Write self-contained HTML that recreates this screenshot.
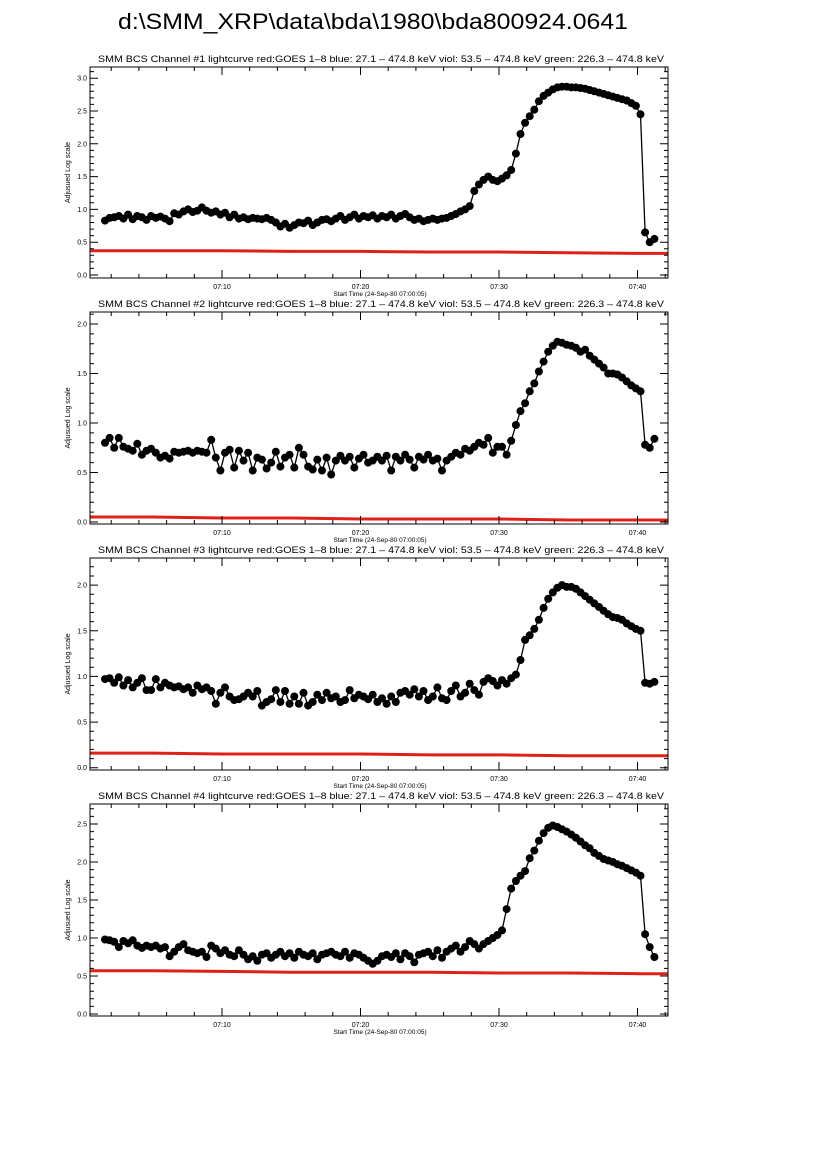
<!DOCTYPE html>
<html><head><meta charset="utf-8"><style>
html,body{margin:0;padding:0;background:#fff;}
svg{display:block;font-family:"Liberation Sans",sans-serif;}
</style></head><body>
<svg id="chart" width="826" height="1169" viewBox="0 0 826 1169" xmlns="http://www.w3.org/2000/svg">
<rect width="826" height="1169" fill="#fff"/>
<text x="118" y="29" font-size="22" textLength="510" lengthAdjust="spacingAndGlyphs">d:\SMM_XRP\data\bda\1980\bda800924.0641</text>
</svg>
<script>
// time axis: minutes after 07:00, samples every 20 s
const T0 = 1.55;
const DT = 1/3;
const xTickLabels = ["07:10","07:20","07:30","07:40"];
const xTickValues = [10,20,30,40];
const redTimes = [0,5,10,15,20,25,30,35,40,42.3];

const ch1 = [0.83,0.87,0.88,0.90,0.86,0.92,0.85,0.90,0.88,0.84,0.90,0.87,
0.89,0.86,0.82,0.94,0.92,0.97,1.00,0.96,0.98,1.03,0.98,0.95,
0.97,0.92,0.95,0.88,0.92,0.86,0.88,0.85,0.87,0.86,0.85,0.87,
0.84,0.80,0.74,0.78,0.72,0.76,0.80,0.79,0.83,0.76,0.80,0.84,
0.85,0.82,0.86,0.90,0.84,0.88,0.92,0.86,0.90,0.88,0.91,0.86,
0.90,0.88,0.92,0.86,0.90,0.93,0.88,0.84,0.86,0.82,0.84,0.86,
0.84,0.86,0.87,0.90,0.93,0.97,1.00,1.05,1.28,1.38,1.45,1.50,
1.45,1.43,1.47,1.52,1.60,1.85,2.15,2.32,2.42,2.52,2.65,2.73,
2.78,2.83,2.86,2.87,2.87,2.86,2.86,2.85,2.84,2.82,2.80,2.78,
2.76,2.74,2.72,2.70,2.68,2.66,2.62,2.58,2.45,0.65,0.50,0.55];
const ch2 = [0.80,0.85,0.75,0.85,0.76,0.74,0.72,0.79,0.68,0.72,0.74,0.70,
0.65,0.67,0.64,0.71,0.70,0.71,0.72,0.70,0.72,0.71,0.70,0.83,
0.65,0.52,0.70,0.73,0.55,0.72,0.62,0.70,0.52,0.65,0.63,0.54,
0.60,0.71,0.56,0.65,0.68,0.55,0.75,0.68,0.56,0.53,0.63,0.52,
0.65,0.48,0.62,0.67,0.62,0.66,0.55,0.64,0.68,0.60,0.62,0.66,
0.62,0.67,0.52,0.66,0.62,0.68,0.63,0.55,0.66,0.63,0.68,0.62,
0.64,0.52,0.62,0.66,0.70,0.68,0.74,0.72,0.76,0.80,0.78,0.85,
0.70,0.76,0.76,0.68,0.82,0.98,1.12,1.20,1.32,1.40,1.52,1.62,
1.72,1.78,1.82,1.81,1.79,1.78,1.76,1.72,1.74,1.68,1.64,1.60,
1.56,1.50,1.50,1.49,1.46,1.42,1.38,1.35,1.32,0.78,0.75,0.84];
const ch3 = [0.97,0.98,0.93,0.99,0.90,0.96,0.88,0.93,0.98,0.85,0.85,0.97,
0.88,0.93,0.90,0.88,0.89,0.86,0.88,0.82,0.90,0.86,0.88,0.84,
0.70,0.82,0.88,0.78,0.74,0.75,0.78,0.82,0.78,0.84,0.68,0.72,
0.75,0.85,0.72,0.84,0.70,0.78,0.70,0.82,0.68,0.72,0.80,0.74,
0.82,0.76,0.78,0.72,0.74,0.85,0.76,0.80,0.78,0.75,0.80,0.72,
0.76,0.70,0.78,0.72,0.82,0.84,0.80,0.86,0.78,0.84,0.74,0.78,
0.88,0.76,0.74,0.84,0.90,0.78,0.82,0.92,0.85,0.80,0.94,0.98,
0.95,0.90,0.96,0.92,0.98,1.02,1.18,1.40,1.45,1.52,1.62,1.75,
1.85,1.92,1.97,2.00,1.98,1.98,1.96,1.92,1.88,1.84,1.80,1.76,
1.72,1.68,1.65,1.64,1.62,1.58,1.55,1.52,1.50,0.93,0.92,0.94];
const ch4 = [0.98,0.97,0.95,0.88,0.96,0.93,0.97,0.90,0.87,0.90,0.88,0.90,
0.86,0.88,0.76,0.82,0.88,0.92,0.84,0.82,0.80,0.82,0.75,0.90,
0.86,0.80,0.84,0.78,0.76,0.84,0.78,0.72,0.76,0.70,0.78,0.80,
0.74,0.78,0.82,0.76,0.80,0.74,0.82,0.78,0.76,0.80,0.72,0.78,
0.80,0.82,0.78,0.76,0.82,0.74,0.80,0.78,0.74,0.70,0.66,0.70,
0.76,0.78,0.75,0.80,0.72,0.80,0.76,0.68,0.78,0.80,0.82,0.76,
0.84,0.74,0.82,0.86,0.90,0.82,0.88,0.96,0.92,0.86,0.92,0.96,
1.00,1.04,1.10,1.38,1.65,1.75,1.82,1.88,2.05,2.15,2.28,2.38,
2.45,2.48,2.46,2.43,2.40,2.36,2.32,2.27,2.22,2.18,2.12,2.08,
2.04,2.02,2.00,1.97,1.95,1.92,1.89,1.86,1.82,1.05,0.88,0.75];
const red1 = [0.37,0.37,0.37,0.36,0.36,0.35,0.35,0.34,0.33,0.33];
const red2 = [0.05,0.05,0.04,0.04,0.03,0.03,0.03,0.02,0.02,0.02];
const red3 = [0.16,0.16,0.15,0.15,0.15,0.14,0.14,0.13,0.13,0.13];
const red4 = [0.57,0.57,0.56,0.55,0.55,0.55,0.54,0.54,0.53,0.53];
const yMaxes = [3.0,2.0,2.0,2.5];

const NS = "http://www.w3.org/2000/svg";
const svg = document.getElementById('chart');
function mk(tag, attrs, parent){const e=document.createElementNS(NS,tag);for(const k in attrs)e.setAttribute(k,attrs[k]);(parent||svg).appendChild(e);return e;}

const panels = [
 {top:67,bot:278,y0:275,ppu:65.6,data:ch1,red:red1,n:1},
 {top:312,bot:524,y0:522,ppu:99,data:ch2,red:red2,n:2},
 {top:558,bot:770,y0:767.7,ppu:91.3,data:ch3,red:red3,n:3},
 {top:804,bot:1016,y0:1014,ppu:76,data:ch4,red:red4,n:4}
];
const L=90, R=668;
function xs(t){return 360.5 + (t-20)*13.85;}

panels.forEach((p,pi)=>{
 const g = mk('g',{});
 
 
 const ys = v => p.y0 - v*p.ppu;
 const title = mk('text',{x:98,y:p.top-5,'font-size':9.3,textLength:566,lengthAdjust:'spacingAndGlyphs'},g);
 
 
 title.textContent='SMM BCS Channel #'+p.n+' lightcurve  red:GOES 1\u20138  blue: 27.1 \u2013 474.8 keV  viol: 53.5 \u2013 474.8 keV  green: 226.3 \u2013 474.8 keV';
 // clip
 const cp = mk('clipPath',{id:'cp'+pi},g);
 mk('rect',{x:L,y:p.top,width:R-L,height:p.bot-p.top},cp);
 const dg = mk('g',{'clip-path':'url(#cp'+pi+')'},g);
 // red GOES line
 let rp='';
 p.red.forEach((v,i)=>{rp+=(i?'L':'M')+xs(redTimes[i]).toFixed(1)+' '+ys(v).toFixed(1);});
 const rl = mk('path',{d:rp,stroke:'#e0201a','stroke-width':3,fill:'none'},dg);
 
 
 // black series
 let d='';
 p.data.forEach((v,i)=>{d+=(i?'L':'M')+xs(T0+i*DT).toFixed(1)+' '+ys(v).toFixed(1);});
 const bl = mk('path',{d:d,stroke:'#000','stroke-width':1.3,fill:'none'},dg);
 
 
 p.data.forEach((v,i)=>{
  const c = mk('circle',{cx:xs(T0+i*DT).toFixed(1),cy:ys(v).toFixed(1),r:4,fill:'#000'},dg);
  
  
 });
 // box
 const box = mk('rect',{x:L,y:p.top,width:R-L,height:p.bot-p.top,fill:'none',stroke:'#000','stroke-width':1},g);
 
 
 // y ticks
 let tk='';
 const ymax = yMaxes[pi];
 for(let k=0;k<=Math.round(ymax*10)+3;k++){
  const v=k/10; const y=ys(v); if(y<p.top+0.5) break;
  const len = (k%5===0)?8:4;
  tk+=`M${L} ${y.toFixed(1)}h${len}M${R} ${y.toFixed(1)}h${-len}`;
  if(k%5===0 && v<=ymax+1e-9){
   const tl = mk('text',{x:87,y:(y+2.5).toFixed(1),'font-size':7,'text-anchor':'end'},g);
   
   
   tl.textContent=v.toFixed(1);
  }
 }
 // x ticks
 for(let m=2;m<=42;m+=2){
  const x=xs(m); if(x<L||x>R) continue;
  const len=(m%10===0)?8:4;
  tk+=`M${x.toFixed(1)} ${p.bot}v${-len}M${x.toFixed(1)} ${p.top}v${len}`;
 }
 const tp = mk('path',{d:tk,stroke:'#000','stroke-width':1,fill:'none'},g);
 
 
 xTickValues.forEach((m,i)=>{
  const tl = mk('text',{x:xs(m).toFixed(1),y:p.bot+11,'font-size':7,'text-anchor':'middle'},g);
  
  
  tl.textContent=xTickLabels[i];
 });
 const xt = mk('text',{x:380,y:p.bot+18,'font-size':6.5,'text-anchor':'middle'},g);
 
 
 xt.textContent='Start Time (24-Sep-80 07:00:05)';
 const cy=(p.top+p.bot)/2;
 const yt = mk('text',{x:0,y:0,'font-size':7,'text-anchor':'middle',transform:`translate(70 ${cy}) rotate(-90)`},g);
 
 
 yt.textContent='Adjusued Log scale';
});
</script>
</body></html>
